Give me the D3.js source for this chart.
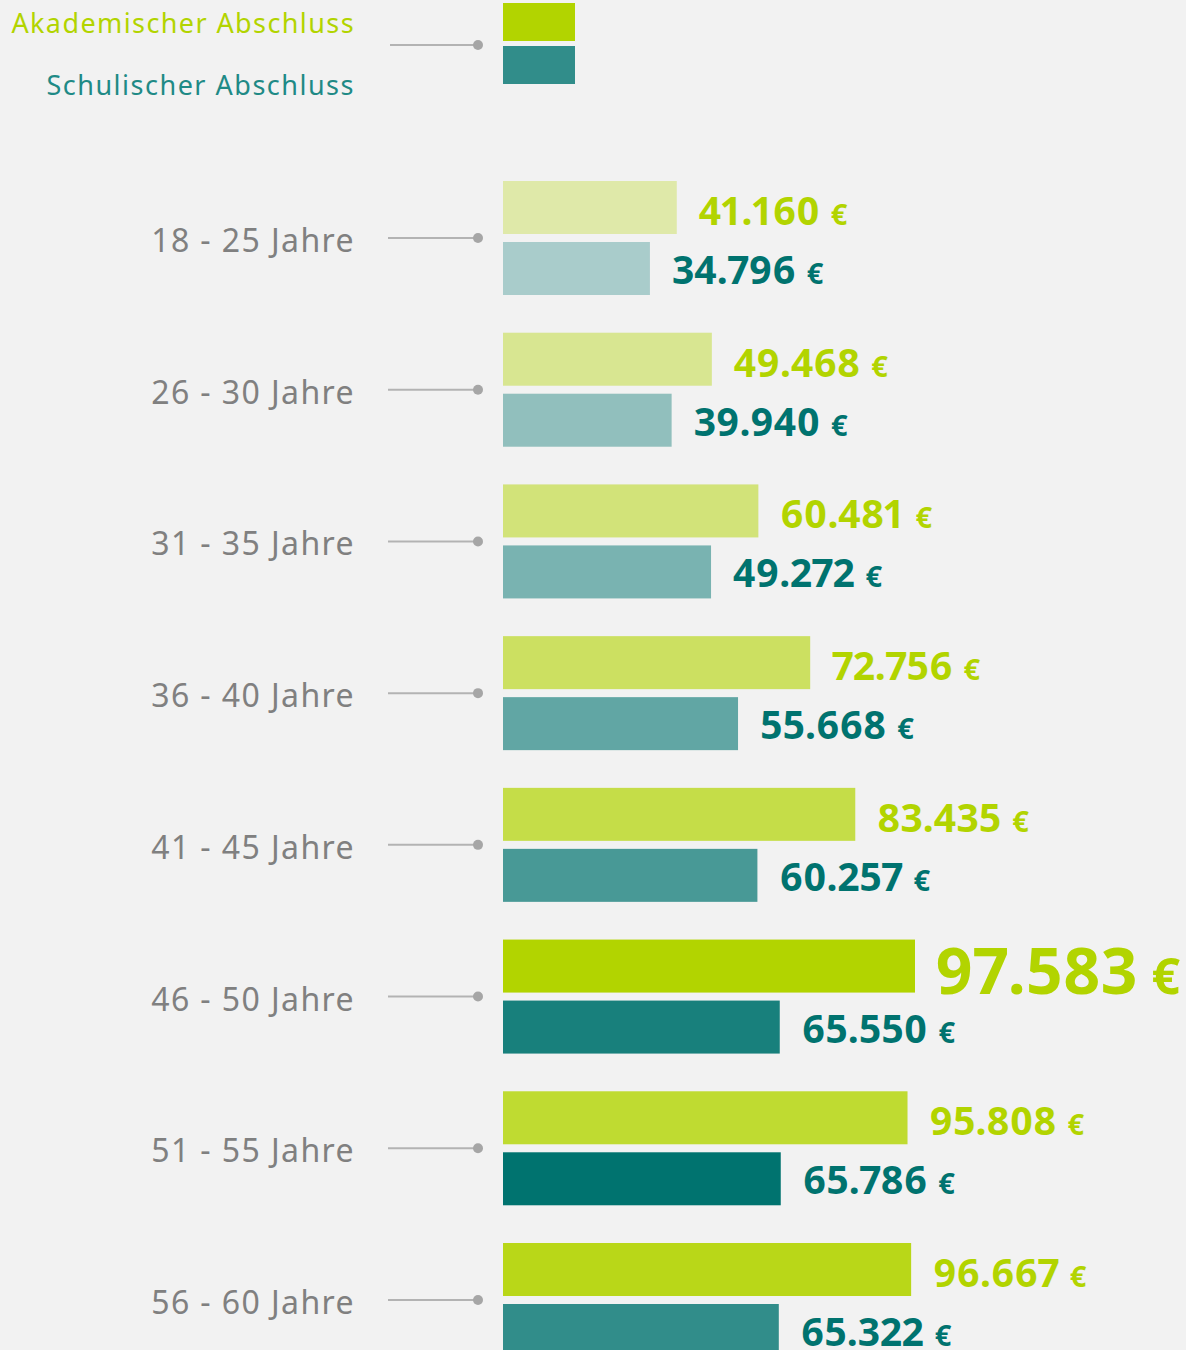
<!DOCTYPE html>
<html><head><meta charset="utf-8">
<script src="https://cdn.jsdelivr.net/npm/d3@7"></script>
<style>
html,body{margin:0;padding:0;background:#f2f2f2;}
svg{display:block;}
text{font-family:"Noto Sans",sans-serif;}
</style></head>
<body>
<svg id="chart" width="1186" height="1350"></svg>
<script>
const categories = ["18 - 25 Jahre","26 - 30 Jahre","31 - 35 Jahre","36 - 40 Jahre","41 - 45 Jahre","46 - 50 Jahre","51 - 55 Jahre","56 - 60 Jahre"];
const akademisch = [41160, 49468, 60481, 72756, 83435, 97583, 95808, 96667];
const schulisch = [34796, 39940, 49272, 55668, 60257, 65550, 65786, 65322];
const seriesNames = ["Akademischer Abschluss", "Schulischer Abschluss"];

const colA = "#b2d400", colS = "#00736f";
const svg = d3.select("#chart");
const W = 1186, H = 1350;
svg.append("rect").attr("width", W).attr("height", H).attr("fill", "#f2f2f2");

const x0 = 503;
const maxV = d3.max(akademisch.concat(schulisch));
const x = d3.scaleLinear().domain([0, maxV]).range([0, 412]);
const y = d3.scalePoint().domain(categories).range([238, 1300]);
const barH = 53;

const de = d3.formatLocale({decimal: ",", thousands: ".", grouping: [3], currency: ["", " €"]});
const fmt = de.format(",d");

// rank-based opacity
function opac(arr) {
  const sorted = arr.slice().sort((a, b) => b - a);
  return arr.map(v => 1 - 0.1 * sorted.indexOf(v));
}
const opA = opac(akademisch), opS = opac(schulisch);

// Legend
const leg = svg.append("g");
leg.append("text").attr("x", 355).attr("y", 33).attr("text-anchor", "end")
  .attr("font-size", 27).attr("letter-spacing", 1.4).attr("fill", colA).text(seriesNames[0]);
leg.append("text").attr("x", 355).attr("y", 95).attr("text-anchor", "end")
  .attr("font-size", 27).attr("letter-spacing", 1.5).attr("fill", "#1f8a86").text(seriesNames[1]);
leg.append("line").attr("x1", 390).attr("x2", 478).attr("y1", 45).attr("y2", 45)
  .attr("stroke", "#b3b3b3").attr("stroke-width", 2);
leg.append("circle").attr("cx", 478).attr("cy", 45).attr("r", 5).attr("fill", "#a6a6a6");
leg.append("rect").attr("x", x0).attr("y", 3).attr("width", 72).attr("height", 38).attr("fill", colA);
leg.append("rect").attr("x", x0).attr("y", 46).attr("width", 72).attr("height", 38).attr("fill", colS).attr("fill-opacity", 0.8);

const rows = svg.selectAll("g.row").data(categories).join("g").attr("class", "row")
  .attr("transform", d => `translate(0,${y(d)})`);

rows.append("text").attr("x", 355).attr("y", 14).attr("text-anchor", "end")
  .attr("font-size", 32).attr("fill", "#808080").attr("letter-spacing", 1.4).text(d => d);
rows.append("line").attr("x1", 388).attr("x2", 478).attr("y1", 0).attr("y2", 0)
  .attr("stroke", "#b3b3b3").attr("stroke-width", 2);
rows.append("circle").attr("cx", 478).attr("cy", 0).attr("r", 5).attr("fill", "#a6a6a6");

rows.append("rect").attr("x", x0).attr("y", -57).attr("height", barH)
  .attr("width", (d, i) => x(akademisch[i])).attr("fill", colA).attr("fill-opacity", (d, i) => opA[i]);
rows.append("rect").attr("x", x0).attr("y", 4).attr("height", barH)
  .attr("width", (d, i) => x(schulisch[i])).attr("fill", colS).attr("fill-opacity", (d, i) => opS[i]);

function label(sel, arr, col, yBase) {
  const t = sel.append("text")
    .attr("x", (d, i) => x0 + x(arr[i]) + (arr[i] === maxV ? 20 : 22))
    .attr("y", (d, i) => arr[i] === maxV ? -3 : yBase)
    .attr("fill", col).attr("font-weight", "bold")
    .style("font-variant-numeric", "proportional-nums");
  t.append("tspan").attr("font-size", (d, i) => arr[i] === maxV ? 64 : 39)
    .text((d, i) => fmt(arr[i]));
  t.append("tspan").attr("font-size", (d, i) => arr[i] === maxV ? 50 : 29)
    .attr("dx", (d, i) => arr[i] === maxV ? 14 : 11).text("€");
}
label(rows, akademisch, colA, -13);
label(rows, schulisch, colS, 46);
</script>
</body></html>
